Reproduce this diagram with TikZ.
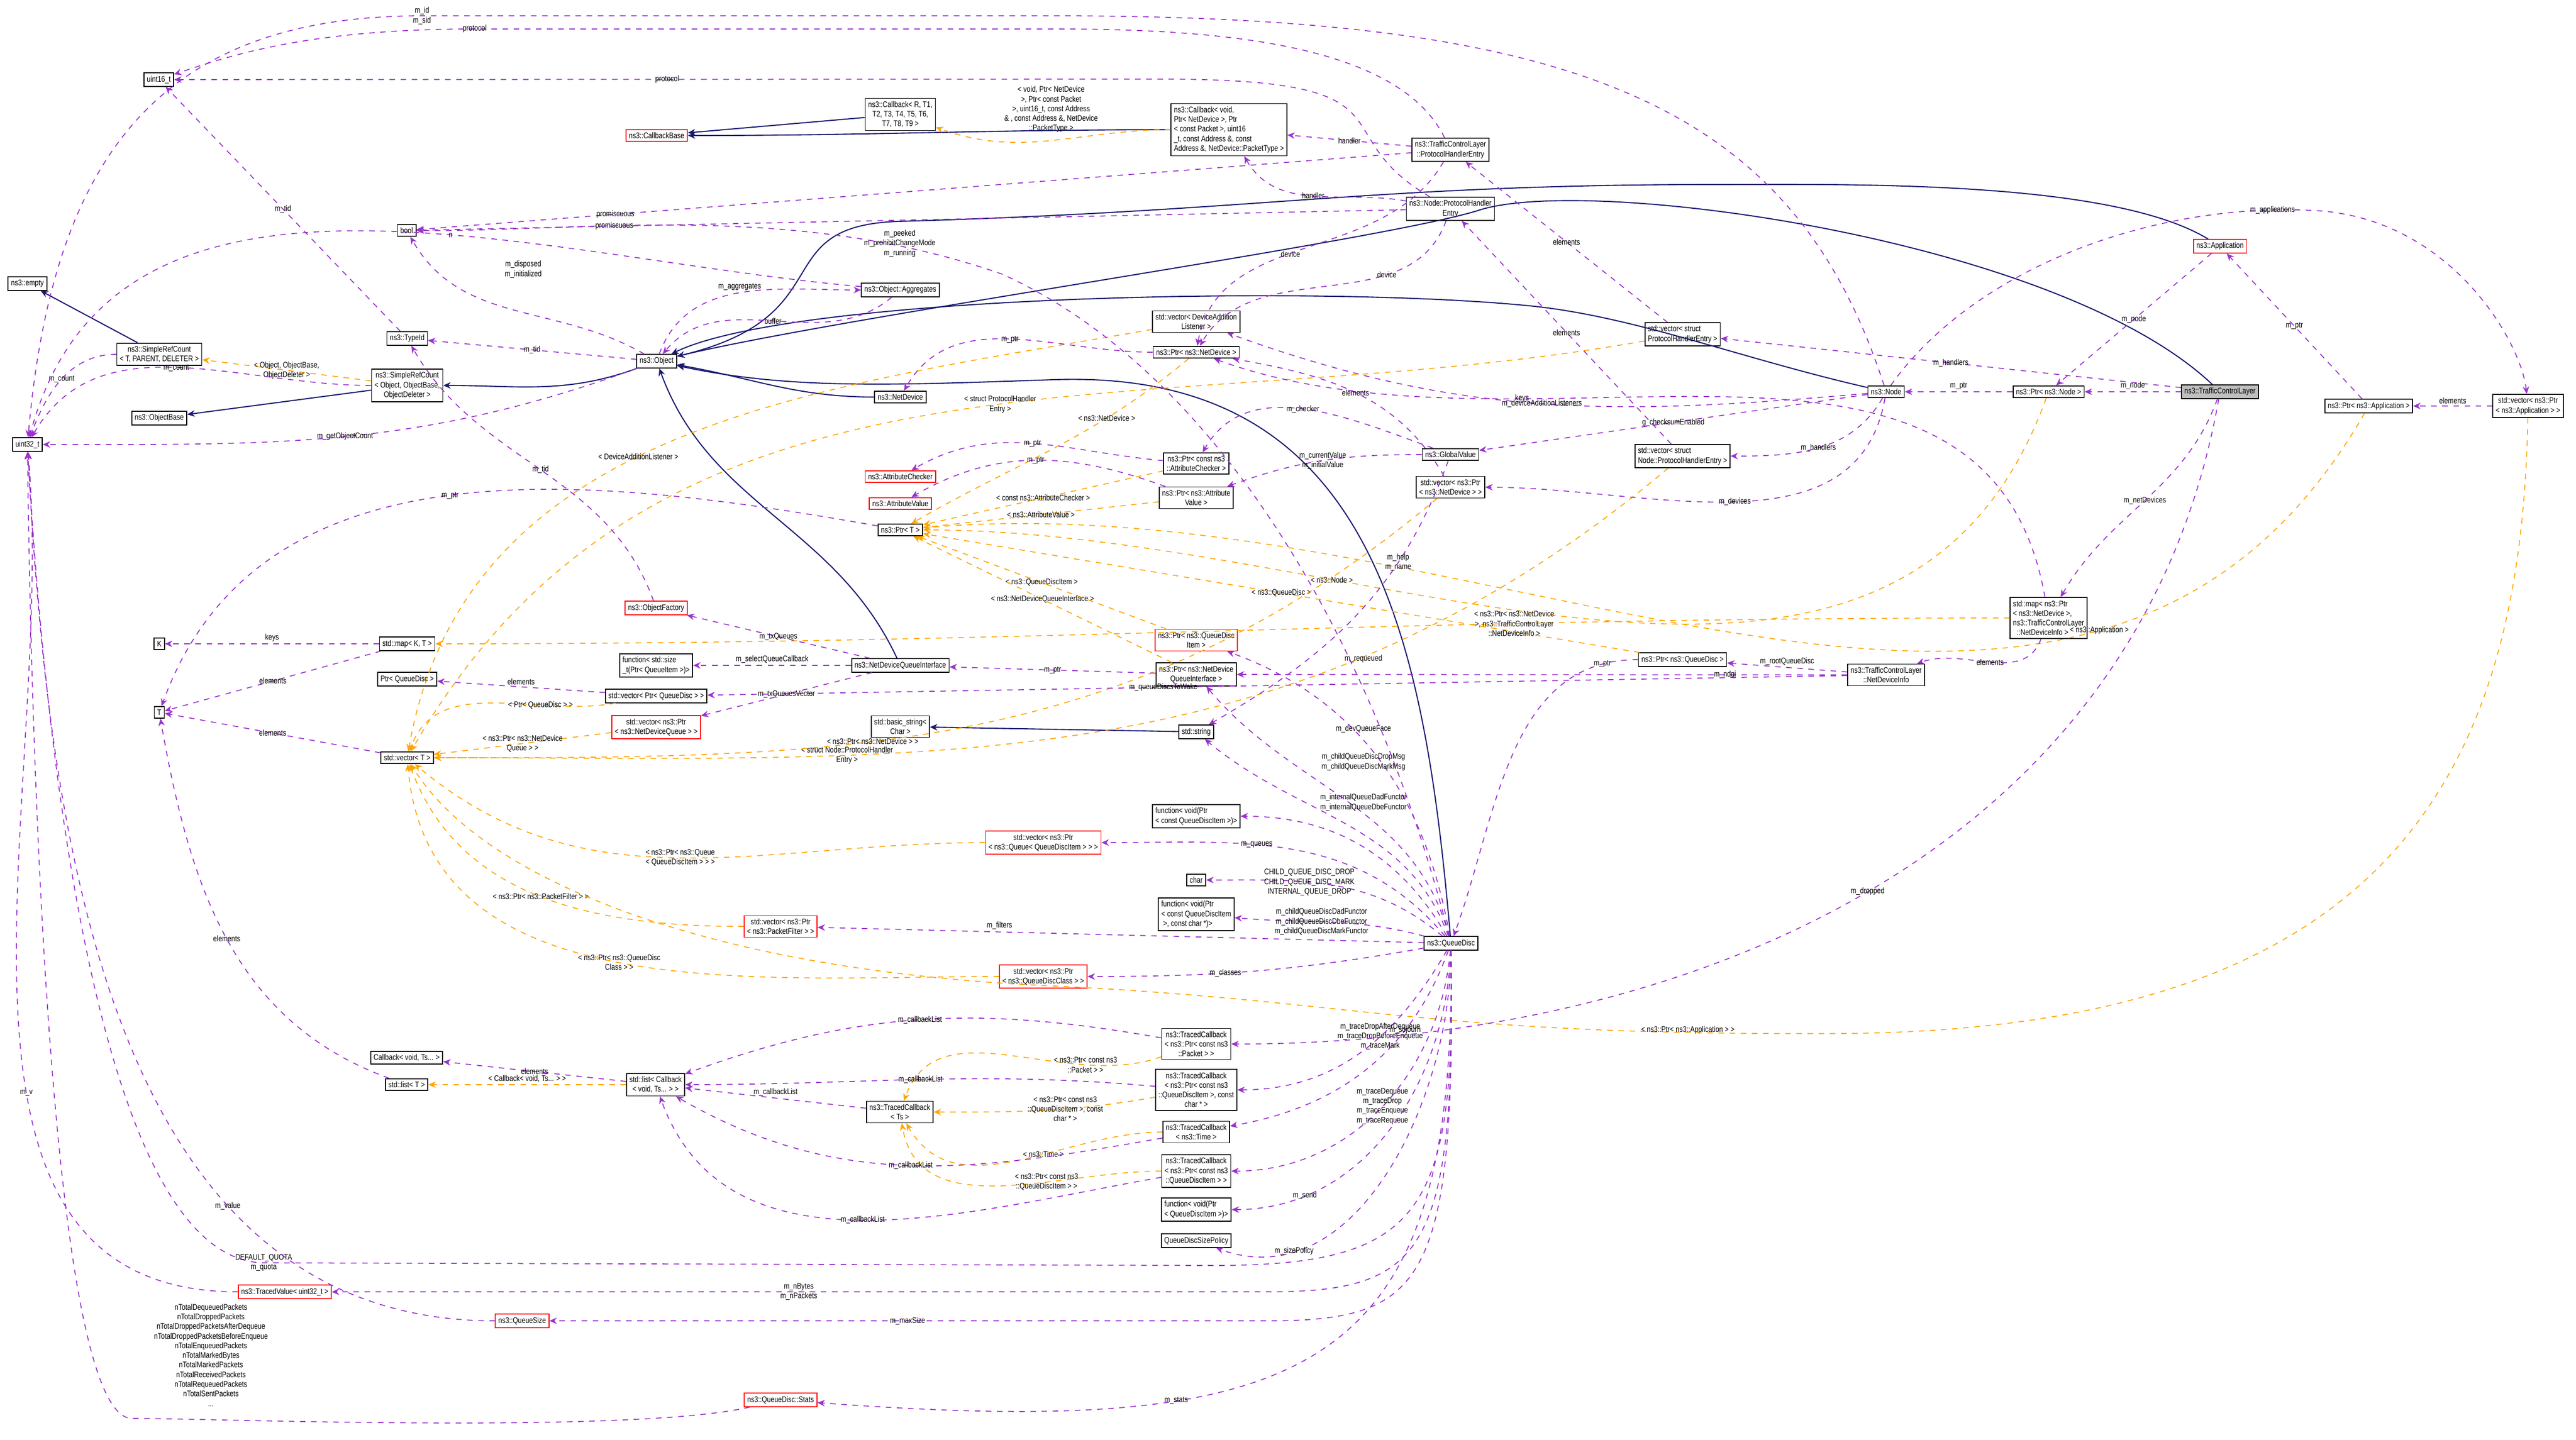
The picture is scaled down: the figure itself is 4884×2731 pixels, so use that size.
\documentclass[tikz,border=0pt]{standalone}
\usepackage{fontspec}
\setmainfont{Liberation Sans}[FakeStretch=0.82]
\usetikzlibrary{arrows.meta}
\definecolor{pc}{HTML}{9A32CD}
\definecolor{oc}{HTML}{FFA500}
\definecolor{nc}{HTML}{191970}
\tikzset{
 x=0.01cm,y=-0.01cm,
 every node/.style={font=\fontsize{4.4}{5.2}\selectfont},
 bx/.style={draw=black,fill=white,inner sep=1.6pt,align=center,line width=0.5pt},
 rbx/.style={bx,draw=red},
 mem/.style={draw=pc,dashed,line width=0.5pt,-{Stealth[length=4pt,width=3.5pt]}},
 tpl/.style={draw=oc,dashed,line width=0.5pt,-{Stealth[length=4pt,width=3.5pt]}},
 inh/.style={draw=nc,line width=0.6pt,-{Stealth[length=4pt,width=3.5pt]}},
 lb/.style={align=center,inner sep=1pt,midway}
}
\begin{document}
\begin{tikzpicture}
\useasboundingbox (0,0) rectangle (4884,2731);
% nodes
\node[bx] (empty) at (52,538) {ns3::empty};
\node[bx] (u32) at (52,843) {uint32\_t};
\node[bx] (u16) at (301,151) {uint16\_t};
\node[rbx] (cbb) at (1245,257) {ns3::CallbackBase};
\node[bx] (cbr) at (1707,217) {ns3::Callback< R, T1,\\T2, T3, T4, T5, T6,\\T7, T8, T9 >};
\node[bx,align=left] (cbv) at (2330,246) {ns3::Callback< void,\\ Ptr< NetDevice >, Ptr\\ < const Packet >, uint16\\ \_t, const Address \&, const\\ Address \&, NetDevice::PacketType >};
\node[bx] (tphe) at (2750,284) {ns3::TrafficControlLayer\\::ProtocolHandlerEntry};
\node[bx] (nphe) at (2750,396) {ns3::Node::ProtocolHandler\\Entry};
\node[bx] (bool) at (771,437) {bool};
\node[bx] (agg) at (1707,550) {ns3::Object::Aggregates};
\node[bx] (tid) at (772,642) {ns3::TypeId};
\node[bx] (obj) at (1245,685) {ns3::Object};
\node[bx] (srct) at (302,672) {ns3::SimpleRefCount\\< T, PARENT, DELETER >};
\node[bx] (srco) at (772,731) {ns3::SimpleRefCount\\< Object, ObjectBase,\\ObjectDeleter >};
\node[bx] (obase) at (302,793) {ns3::ObjectBase};
\node[bx] (vdal) at (2268,610) {std::vector< DeviceAddition\\Listener >};
\node[bx] (pnd) at (2268,668) {ns3::Ptr< ns3::NetDevice >};
\node[bx] (nd) at (1707,753) {ns3::NetDevice};
\node[bx] (pac) at (2268,879) {ns3::Ptr< const ns3\\::AttributeChecker >};
\node[bx] (pav) at (2268,944) {ns3::Ptr< ns3::Attribute\\Value >};
\node[rbx] (ac) at (1707,904) {ns3::AttributeChecker};
\node[rbx] (av) at (1707,955) {ns3::AttributeValue};
\node[bx] (gv) at (2750,862) {ns3::GlobalValue};
\node[bx] (vpnd) at (2750,924) {std::vector< ns3::Ptr\\< ns3::NetDevice > >};
\node[bx,align=left] (vphe) at (3190,634) {std::vector< struct\\ ProtocolHandlerEntry >};
\node[bx,align=left] (vnphe) at (3190,865) {std::vector< struct\\ Node::ProtocolHandlerEntry >};
\node[bx] (node) at (3576,743) {ns3::Node};
\node[bx] (pnode) at (3884,743) {ns3::Ptr< ns3::Node >};
\node[bx,fill=black!25] (tcl) at (4209,743) {ns3::TrafficControlLayer};
\node[rbx] (app) at (4209,467) {ns3::Application};
\node[bx] (papp) at (4491,770) {ns3::Ptr< ns3::Application >};
\node[bx] (vpapp) at (4793,770) {std::vector< ns3::Ptr\\< ns3::Application > >};
\node[bx,align=left] (map) at (3884,1172) {std::map< ns3::Ptr\\< ns3::NetDevice >,\\ ns3::TrafficControlLayer\\ \ \ ::NetDeviceInfo >};
\node[bx] (ndi) at (3576,1280) {ns3::TrafficControlLayer\\::NetDeviceInfo};
\node[bx] (pqd) at (3190,1251) {ns3::Ptr< ns3::QueueDisc >};
\node[bx] (pt) at (1707,1005) {ns3::Ptr< T >};
\node[rbx] (of) at (1244,1153) {ns3::ObjectFactory};
\node[bx] (K) at (302,1221) {K};
\node[bx] (mapkt) at (772,1221) {std::map< K, T >};
\node[bx] (T) at (302,1351) {T};
\node[bx] (ptrqd) at (772,1288) {Ptr< QueueDisc >};
\node[bx,align=left] (fsz) at (1244,1262) {function< std::size\\ \_t(Ptr< QueueItem >)>};
\node[bx] (ndqi) at (1707,1262) {ns3::NetDeviceQueueInterface};
\node[bx] (vptrqd) at (1244,1320) {std::vector< Ptr< QueueDisc > >};
\node[rbx] (vndq) at (1244,1379) {std::vector< ns3::Ptr\\< ns3::NetDeviceQueue > >};
\node[bx] (vt) at (772,1437) {std::vector< T >};
\node[bx] (bstr) at (1707,1378) {std::basic\_string<\\Char >};
\node[rbx] (pqdi) at (2268,1214) {ns3::Ptr< ns3::QueueDisc\\Item >};
\node[bx] (pndqi) at (2268,1279) {ns3::Ptr< ns3::NetDevice\\QueueInterface >};
\node[bx] (str) at (2268,1388) {std::string};
\node[bx,align=left] (fqdi) at (2268,1548) {function< void(Ptr\\< const QueueDiscItem >)>};
\node[rbx] (vq) at (1978,1598) {std::vector< ns3::Ptr\\< ns3::Queue< QueueDiscItem > > >};
\node[bx] (char) at (2268,1669) {char};
\node[bx,align=left] (fqdic) at (2268,1734) {function< void(Ptr\\< const QueueDiscItem\\ \ >, const char *)>};
\node[rbx] (vpf) at (1480,1757) {std::vector< ns3::Ptr\\< ns3::PacketFilter > >};
\node[bx] (qd) at (2751,1789) {ns3::QueueDisc};
\node[rbx] (vqdc) at (1978,1852) {std::vector< ns3::Ptr\\< ns3::QueueDiscClass > >};
\node[bx] (cbts) at (771,2006) {Callback< void, Ts... >};
\node[bx] (lt) at (771,2057) {std::list< T >};
\node[bx] (lcb) at (1243,2057) {std::list< Callback\\< void, Ts... > >};
\node[bx] (tcts) at (1706,2109) {ns3::TracedCallback\\< Ts >};
\node[bx] (tcp) at (2268,1980) {ns3::TracedCallback\\< ns3::Ptr< const ns3\\::Packet > >};
\node[bx] (tcqc) at (2268,2067) {ns3::TracedCallback\\< ns3::Ptr< const ns3\\::QueueDiscItem >, const\\ char * >};
\node[bx] (tctime) at (2268,2147) {ns3::TracedCallback\\< ns3::Time >};
\node[bx] (tcq) at (2268,2221) {ns3::TracedCallback\\< ns3::Ptr< const ns3\\::QueueDiscItem > >};
\node[bx,align=left] (fsend) at (2268,2294) {function< void(Ptr\\< QueueDiscItem >)>};
\node[bx] (qsp) at (2268,2353) {QueueDiscSizePolicy};
\node[rbx] (tv) at (540,2450) {ns3::TracedValue< uint32\_t >};
\node[rbx] (qs) at (990,2505) {ns3::QueueSize};
\node[rbx] (stats) at (1480,2655) {ns3::QueueDisc::Stats};
% inheritance
\draw[inh] (srct) -- (empty);
\draw[inh] (srco) -- (obase);
\draw[inh] (obj) to[out=200,in=0] (srco);
\draw[inh] (cbr) -- (cbb);
\draw[inh] (cbv) to[out=180,in=0] (cbb);
\draw[inh] (nd) to[out=180,in=-10] (obj);
\draw[inh] (ndqi) to[out=115,in=-70] (obj);
\draw[inh] (node) .. controls (3300,680) and (3100,600) .. (2900,580) .. controls (2500,540) and (1500,560) .. (obj);
\draw[inh] (tcl) .. controls (3900,450) and (3000,330) .. (2800,400) .. controls (2600,460) and (1600,600) .. (obj);
\draw[inh] (app) .. controls (4000,340) and (3500,350) .. (3250,350) .. controls (2600,350) and (2400,400) .. (1700,420) .. controls (1450,430) and (1600,600) .. (obj);
\draw[inh] (qd) .. controls (2700,1200) and (2600,700) .. (2000,720) .. controls (1700,730) and (1500,740) .. (obj);
\draw[inh] (str) -- (bstr);
% templates
\draw[tpl] (srco) -- node[lb]{< Object, ObjectBase,\\ObjectDeleter >} (srct);
\draw[tpl] (cbv) to[out=180,in=-20] node[lb,above=3pt]{< void, Ptr< NetDevice\\>, Ptr< const Packet\\>, uint16\_t, const Address\\\& , const Address \&, NetDevice\\::PacketType >} (cbr);
\draw[tpl] (vdal) to[out=190,in=80] node[lb,pos=0.55]{< DeviceAdditionListener >} (vt);
\draw[tpl] (pnd) to[out=220,in=30] node[lb,pos=0.3]{< ns3::NetDevice >} (pt);
\draw[tpl] (pac) -- node[lb]{< const ns3::AttributeChecker >} (pt);
\draw[tpl] (pav) -- node[lb]{< ns3::AttributeValue >} (pt);
\draw[tpl] (pqdi) -- node[lb]{< ns3::QueueDiscItem >} (pt);
\draw[tpl] (pndqi) -- node[lb]{< ns3::NetDeviceQueueInterface >} (pt);
\draw[tpl] (pqd) -- node[lb,pos=0.5]{< ns3::QueueDisc >} (pt);
\draw[tpl] (pnode) to[out=250,in=0] node[lb,pos=0.7]{< ns3::Node >} (pt);
\draw[tpl] (papp) to[out=240,in=5] node[lb,pos=0.25]{< ns3::Application >} (pt);
\draw[tpl] (vphe) to[out=190,in=60] node[lb,pos=0.45]{< struct ProtocolHandler\\Entry >} (vt);
\draw[tpl] (vnphe) to[out=220,in=0] node[lb,pos=0.7]{< struct Node::ProtocolHandler\\Entry >} (vt);
\draw[tpl] (vpnd) to[out=220,in=0] node[lb,pos=0.6]{< ns3::Ptr< ns3::NetDevice > >} (vt);
\draw[tpl] (map) to[out=180,in=0] node[lb,pos=0.3]{< ns3::Ptr< ns3::NetDevice\\>, ns3::TrafficControlLayer\\::NetDeviceInfo >} (mapkt);
\draw[tpl] (vptrqd) to[out=190,in=70] node[lb,pos=0.3]{< Ptr< QueueDisc > >} (vt);
\draw[tpl] (vndq) -- node[lb]{< ns3::Ptr< ns3::NetDevice\\Queue > >} (vt);
\draw[tpl] (vq) to[out=180,in=-40] node[lb,pos=0.5]{< ns3::Ptr< ns3::Queue\\< QueueDiscItem > > >} (vt);
\draw[tpl] (vpf) to[out=180,in=-70] node[lb,pos=0.5]{< ns3::Ptr< ns3::PacketFilter > >} (vt);
\draw[tpl] (vqdc) to[out=180,in=-85] node[lb,pos=0.5]{< ns3::Ptr< ns3::QueueDisc\\Class > >} (vt);
\draw[tpl] (vpapp) .. controls (4780,1500) and (4500,1950) .. (3500,1960) .. controls (2700,1965) and (2600,1900) .. (2000,1870) .. controls (1300,1840) and (900,1650) .. (vt);
\node at (3200,1953) {< ns3::Ptr< ns3::Application > >};
\draw[tpl] (lcb) -- node[lb,above]{< Callback< void, Ts... > >} (lt);
\draw[tpl] (tcp) to[out=200,in=70] node[lb,pos=0.25]{< ns3::Ptr< const ns3\\::Packet > >} (tcts);
\draw[tpl] (tcqc) to[out=190,in=0] node[lb,pos=0.4]{< ns3::Ptr< const ns3\\::QueueDiscItem >, const\\char * >} (tcts);
\draw[tpl] (tctime) to[out=180,in=-60] node[lb,pos=0.4]{< ns3::Time >} (tcts);
\draw[tpl] (tcq) to[out=180,in=-80] node[lb,pos=0.35]{< ns3::Ptr< const ns3\\::QueueDiscItem > >} (tcts);
% members
\draw[mem] (obj) to[out=200,in=0] node[lb]{m\_getObjectCount} (u32);
\draw[mem] (srct) to[out=180,in=70] node[lb]{m\_count} (u32);
\draw[mem] (srco) to[out=180,in=60] node[lb]{m\_count} (u32);
\draw[mem] (agg) to[out=175,in=75] node[lb,pos=0.4]{n} (u32);
\draw[mem] (obj) -- node[lb]{m\_tid} (tid);
\draw[mem] (obj) to[out=150,in=-60] (bool);
\node[align=center] at (992,511) {m\_disposed\\m\_initialized};
\draw[mem] (obj) to[out=70,in=180] node[lb,above]{m\_aggregates} (agg);
\draw[mem] (agg) to[out=220,in=50] node[lb]{buffer} (obj);
\draw[mem] (tid) -- node[lb]{m\_tid} (u16);
\draw[mem] (of) to[out=110,in=-60] node[lb]{m\_tid} (tid);
\draw[mem] (tphe) .. controls (2650,80) and (2300,55) .. (2000,55) -- (900,55) .. controls (600,55) and (450,100) .. node[lb,pos=0]{protocol} (u16);
\draw[mem] (nphe) .. controls (2500,250) and (2700,150) .. (2200,150) -- node[lb]{protocol} (u16);
\draw[mem] (tphe) -- node[lb,pos=0.8]{promiscuous} (bool);
\draw[mem] (nphe) -- node[lb,pos=0.8]{promiscuous} (bool);
\draw[mem] (tphe) -- node[lb]{handler} (cbv);
\draw[mem] (nphe) to[out=170,in=-60] node[lb]{handler} (cbv);
\draw[mem] (tphe) to[out=-120,in=80] node[lb,pos=0.55]{device} (pnd);
\draw[mem] (nphe) to[out=-110,in=60] node[lb,pos=0.3]{device} (pnd);
\draw[mem] (node) .. controls (3400,200) and (3000,30) .. (2000,30) -- (800,30) .. controls (300,30) and (100,300) .. node[lb,pos=0]{m\_id\\m\_sid} (u32);
\draw[mem] (vphe) -- node[lb]{elements} (tphe);
\draw[mem] (vnphe) -- node[lb]{elements} (nphe);
\draw[mem] (tcl) -- node[lb]{m\_handlers} (vphe);
\draw[mem] (node) to[out=-120,in=0] node[lb]{m\_handlers} (vnphe);
\draw[mem] (node) to[out=185,in=-20] node[lb]{m\_deviceAdditionListeners} (vdal);
\draw[mem] (node) -- node[lb]{g\_checksumEnabled} (gv);
\draw[mem] (node) to[out=-100,in=0] node[lb]{m\_devices} (vpnd);
\draw[mem] (node) .. controls (3750,500) and (4100,380) .. node[lb,pos=0.9]{m\_applications} (4400,400) .. controls (4650,420) and (4780,650) .. (vpapp);
\draw[mem] (vpnd) to[out=120,in=-10] node[lb]{elements} (pnd);
\draw[mem] (pnd) to[out=180,in=60] node[lb]{m\_ptr} (nd);
\draw[mem] (gv) to[out=160,in=60] node[lb]{m\_checker} (pac);
\draw[mem] (gv) to[out=180,in=20] node[lb]{m\_currentValue\\m\_initialValue} (pav);
\draw[mem] (gv) to[out=-110,in=30] node[lb,pos=0.3]{m\_help\\m\_name} (str);
\draw[mem] (pac) to[out=175,in=30] node[lb]{m\_ptr} (ac);
\draw[mem] (pav) to[out=160,in=30] node[lb]{m\_ptr} (av);
\draw[mem] (pt) to[out=170,in=70] node[lb,pos=0.5]{m\_ptr} (T);
\draw[mem] (mapkt) -- node[lb,above]{keys} (K);
\draw[mem] (mapkt) -- node[lb]{elements} (T);
\draw[mem] (vt) -- node[lb]{elements} (T);
\draw[mem] (lt) to[out=160,in=-80] node[lb]{elements} (T);
\draw[mem] (lcb) -- node[lb]{elements} (cbts);
\draw[mem] (map) to[out=100,in=-20] node[lb,pos=0.7]{keys} (pnd);
\draw[mem] (map) to[out=-110,in=20] node[lb]{elements} (ndi);
\draw[mem] (tcl) to[out=-110,in=60] node[lb]{m\_netDevices} (map);
\draw[mem] (tcl) -- node[lb,above]{m\_node} (pnode);
\draw[mem] (pnode) -- node[lb,above]{m\_ptr} (node);
\draw[mem] (app) -- node[lb]{m\_node} (pnode);
\draw[mem] (papp) -- node[lb]{m\_ptr} (app);
\draw[mem] (vpapp) -- node[lb,above]{elements} (papp);
\draw[mem] (ndi) -- node[lb,above]{m\_rootQueueDisc} (pqd);
\draw[mem] (ndi) -- node[lb,pos=0.2]{m\_ndqi} (pndqi);
\draw[mem] (ndi) -- node[lb,pos=0.6]{m\_queueDiscsToWake} (vptrqd);
\draw[mem] (pqd) to[out=180,in=70] node[lb,pos=0.1]{m\_ptr} (qd);
\draw[mem] (pndqi) -- node[lb]{m\_ptr} (ndqi);
\draw[mem] (ndqi) -- node[lb]{m\_txQueues} (of);
\draw[mem] (ndqi) -- node[lb,above]{m\_selectQueueCallback} (fsz);
\draw[mem] (ndqi) -- node[lb]{m\_txQueuesVector} (vndq);
\draw[mem] (vptrqd) -- node[lb,above]{elements} (ptrqd);
\draw[mem] (qd) to[out=100,in=-20] (pqdi);
\node at (2585,1249) {m\_requeued};
\draw[mem] (qd) to[out=105,in=-50] (pndqi);
\node at (2585,1382) {m\_devQueueFace};
\draw[mem] (qd) to[out=110,in=-40] (str);
\node[align=center] at (2585,1445) {m\_childQueueDiscDropMsg\\m\_childQueueDiscMarkMsg};
\draw[mem] (qd) to[out=120,in=0] (fqdi);
\node[align=center] at (2585,1522) {m\_internalQueueDadFunctor\\m\_internalQueueDbeFunctor};
\draw[mem] (qd) to[out=130,in=0] node[lb,pos=0.6]{m\_queues} (vq);
\draw[mem] (qd) to[out=140,in=0] node[lb,pos=0.6]{CHILD\_QUEUE\_DISC\_DROP\\CHILD\_QUEUE\_DISC\_MARK\\INTERNAL\_QUEUE\_DROP} (char);
\draw[mem] (qd) to[out=165,in=-5] node[lb,pos=0.55]{m\_childQueueDiscDadFunctor\\m\_childQueueDiscDbeFunctor\\m\_childQueueDiscMarkFunctor} (fqdic);
\draw[mem] (qd) -- node[lb,pos=0.7,above]{m\_filters} (vpf);
\draw[mem] (qd) to[out=190,in=0] node[lb,pos=0.6]{m\_classes} (vqdc);
\draw[mem] (qd) to[out=-120,in=0] node[lb,pos=0.4]{m\_traceDropAfterDequeue\\m\_traceDropBeforeEnqueue\\m\_traceMark} (tcqc);
\draw[mem] (qd) to[out=-110,in=10] node[lb,pos=0.3]{m\_sojourn} (tctime);
\draw[mem] (qd) to[out=-95,in=0] node[lb,pos=0.5]{m\_traceDequeue\\m\_traceDrop\\m\_traceEnqueue\\m\_traceRequeue} (tcq);
\draw[mem] (qd) to[out=-92,in=0] node[lb,pos=0.8]{m\_send} (fsend);
\draw[mem] (qd) to[out=-90,in=-20] node[lb,pos=0.8]{m\_sizePolicy} (qsp);
\draw[mem] (qd) .. controls (2760,2300) and (2700,2400) .. (2300,2400) -- (500,2395) .. controls (200,2390) and (90,1500) .. node[lb,pos=0]{DEFAULT\_QUOTA\\m\_quota} (u32);
\draw[mem] (qd) .. controls (2760,2380) and (2700,2450) .. (2400,2450) -- node[lb]{m\_nBytes\\m\_nPackets} (tv);
\draw[mem] (qd) .. controls (2760,2440) and (2700,2505) .. (2400,2505) -- node[lb]{m\_maxSize} (qs);
\draw[mem] (qd) .. controls (2760,2600) and (2500,2730) .. node[lb,pos=0.7]{m\_stats} (stats);
\draw[mem] (qd) .. controls (2600,1200) and (2300,700) .. (1900,520) .. controls (1500,380) and (1100,440) .. (bool);
\node[align=center] at (1706,462) {m\_peeked\\m\_prohibitChangeMode\\m\_running};
\draw[mem] (tcl) to[out=-100,in=0] node[lb,pos=0.5]{m\_dropped} (tcp);
\draw[mem] (tcp) to[out=170,in=20] node[lb]{m\_callbackList} (lcb);
\draw[mem] (tcqc) to[out=175,in=0] node[lb]{m\_callbackList} (lcb);
\draw[mem] (tcts) -- node[lb,above]{m\_callbackList} (lcb);
\draw[mem] (tctime) to[out=190,in=-30] node[lb]{m\_callbackList} (lcb);
\draw[mem] (tcq) to[out=190,in=-70] node[lb]{m\_callbackList} (lcb);
\draw[mem] (tv) to[out=180,in=-85] node[lb,pos=0.4]{m\_v} (u32);
\draw[mem] (qs) to[out=180,in=-87] node[lb,pos=0.3]{m\_value} (u32);
\draw[mem] (stats) .. controls (1200,2720) and (400,2690) .. (250,2690) .. controls (100,2690) and (60,1500) .. (u32);
\node[align=center] at (400,2570) {nTotalDequeuedPackets\\nTotalDroppedPackets\\nTotalDroppedPacketsAfterDequeue\\nTotalDroppedPacketsBeforeEnqueue\\nTotalEnqueuedPackets\\nTotalMarkedBytes\\nTotalMarkedPackets\\nTotalReceivedPackets\\nTotalRequeuedPackets\\nTotalSentPackets\\...};
\end{tikzpicture}
\end{document}
